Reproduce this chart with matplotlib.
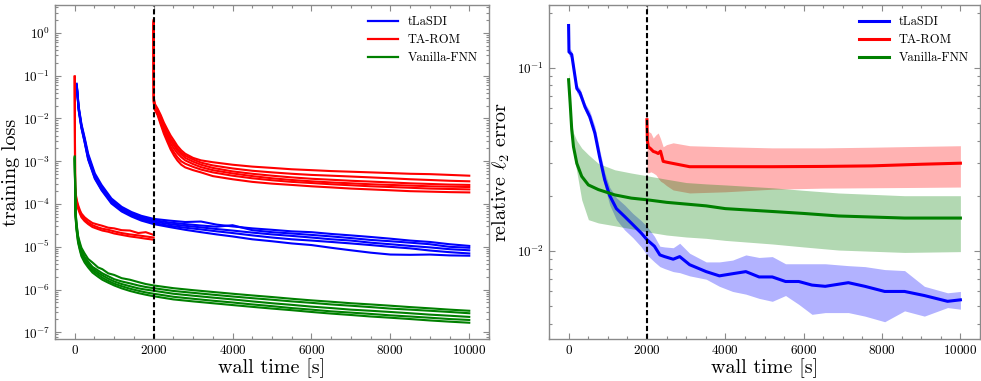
import matplotlib
matplotlib.use("Agg")
import matplotlib.pyplot as plt
from matplotlib.ticker import MultipleLocator, LogLocator

plt.rcParams.update({
    "font.family": "serif",
    "font.serif": ["cmr10"],
    "mathtext.fontset": "cm",
    "axes.formatter.use_mathtext": True,
    "axes.unicode_minus": False,
})

# ---------------- left panel: training loss (several runs per method) ----------------
t_blue = [50, 100, 170, 250, 340, 510, 680, 930, 1190, 1440, 1690, 2000,
          2400, 2800, 3200, 3600, 4000, 4500, 5000, 5500, 6000, 6500, 7000,
          7500, 8000, 8500, 9000, 9500, 10000]
blue_runs = [
    [0.065, 0.019, 7.4e-3, 3.6e-3, 1.5e-3, 5.2e-4, 2.8e-4, 1.35e-4, 8.6e-5, 6.5e-5, 5.3e-5, 4.5e-5,
     4.1e-5, 3.8e-5, 3.9e-5, 3.3e-5, 3.0e-5, 2.7e-5, 2.5e-5, 2.3e-5, 2.2e-5, 2.0e-5, 1.85e-5,
     1.7e-5, 1.55e-5, 1.4e-5, 1.3e-5, 1.15e-5, 1.05e-5],
    [0.062, 0.018, 7.0e-3, 3.3e-3, 1.35e-3, 4.7e-4, 2.5e-4, 1.22e-4, 7.9e-5, 6.0e-5, 4.9e-5, 4.2e-5,
     3.7e-5, 3.4e-5, 3.15e-5, 2.95e-5, 3.2e-5, 2.45e-5, 2.2e-5, 2.05e-5, 1.9e-5, 1.75e-5, 1.6e-5,
     1.45e-5, 1.35e-5, 1.25e-5, 1.15e-5, 1.0e-5, 9.5e-6],
    [0.060, 0.017, 6.6e-3, 3.1e-3, 1.25e-3, 4.4e-4, 2.35e-4, 1.15e-4, 7.4e-5, 5.7e-5, 4.6e-5, 3.9e-5,
     3.4e-5, 3.1e-5, 2.85e-5, 2.6e-5, 2.4e-5, 2.15e-5, 1.95e-5, 1.8e-5, 1.65e-5, 1.5e-5, 1.4e-5,
     1.25e-5, 1.15e-5, 1.05e-5, 9.7e-6, 8.8e-6, 8.3e-6],
    [0.058, 0.016, 6.2e-3, 2.9e-3, 1.15e-3, 4.1e-4, 2.2e-4, 1.08e-4, 7.0e-5, 5.4e-5, 4.3e-5, 3.6e-5,
     3.1e-5, 2.8e-5, 2.55e-5, 2.3e-5, 2.1e-5, 1.85e-5, 1.65e-5, 1.5e-5, 1.4e-5, 1.3e-5, 1.2e-5,
     1.1e-5, 1.0e-5, 9.2e-6, 8.2e-6, 7.5e-6, 7.0e-6],
    [0.057, 0.0155, 6.0e-3, 2.8e-3, 1.1e-3, 3.9e-4, 2.1e-4, 1.03e-4, 6.7e-5, 5.1e-5, 4.1e-5, 3.4e-5,
     2.9e-5, 2.5e-5, 2.2e-5, 1.95e-5, 1.75e-5, 1.5e-5, 1.35e-5, 1.2e-5, 1.1e-5, 9.5e-6, 8.3e-6,
     7.3e-6, 6.6e-6, 6.5e-6, 6.6e-6, 6.3e-6, 6.2e-6],
]

t_red1 = [0, 10, 25, 50, 85, 130, 170, 250, 340, 450, 590, 700, 850, 1000,
          1190, 1400, 1610, 1800, 2000]
red1_runs = [
    [0.097, 2.8e-4, 1.75e-4, 1.25e-4, 9.5e-5, 7.2e-5, 6.0e-5, 4.9e-5, 4.2e-5, 3.6e-5,
     3.3e-5, 3.1e-5, 2.8e-5, 2.7e-5, 2.45e-5, 2.4e-5, 2.1e-5, 2.2e-5, 1.9e-5],
    [0.095, 2.5e-4, 1.6e-4, 1.15e-4, 8.5e-5, 6.5e-5, 5.4e-5, 4.4e-5, 3.7e-5, 3.2e-5,
     2.85e-5, 2.65e-5, 2.5e-5, 2.3e-5, 2.1e-5, 1.95e-5, 1.85e-5, 1.75e-5, 1.65e-5],
    [0.093, 2.3e-4, 1.45e-4, 1.05e-4, 7.8e-5, 6.0e-5, 4.9e-5, 4.0e-5, 3.4e-5, 2.9e-5,
     2.6e-5, 2.4e-5, 2.25e-5, 2.05e-5, 1.9e-5, 1.75e-5, 1.65e-5, 1.55e-5, 1.47e-5],
]

t_red2 = [2000, 2005, 2030, 2100, 2180, 2260, 2350, 2430, 2520, 2600, 2700, 2800,
          3000, 3200, 3500, 4000, 4500, 5000, 5500, 6000, 6500, 7000, 7500, 8000,
          8500, 9000, 9500, 10000]
red2_runs = [
    [2.0, 0.03, 0.022, 0.017, 0.012, 8.0e-3, 5.5e-3, 4.0e-3, 3.0e-3, 2.3e-3, 1.8e-3, 1.5e-3,
     1.2e-3, 1.05e-3, 9.5e-4, 8.3e-4, 7.5e-4, 7.0e-4, 6.5e-4, 6.2e-4, 5.9e-4, 5.7e-4, 5.5e-4,
     5.3e-4, 5.1e-4, 5.0e-4, 4.8e-4, 4.6e-4],
    [1.9, 0.028, 0.020, 0.016, 0.011, 7.0e-3, 4.8e-3, 3.4e-3, 2.6e-3, 2.0e-3, 1.6e-3, 1.35e-3,
     1.1e-3, 9.3e-4, 8.0e-4, 6.8e-4, 6.0e-4, 5.5e-4, 5.1e-4, 4.8e-4, 4.6e-4, 4.4e-4, 4.2e-4,
     4.0e-4, 3.8e-4, 3.65e-4, 3.5e-4, 3.4e-4],
    [1.8, 0.026, 0.019, 0.015, 9.5e-3, 6.3e-3, 4.2e-3, 3.0e-3, 2.3e-3, 1.8e-3, 1.45e-3, 1.2e-3,
     9.8e-4, 8.3e-4, 7.0e-4, 5.8e-4, 5.1e-4, 4.6e-4, 4.2e-4, 3.9e-4, 3.7e-4, 3.5e-4, 3.35e-4,
     3.2e-4, 3.05e-4, 2.95e-4, 2.85e-4, 2.8e-4],
    [1.7, 0.025, 0.018, 0.014, 8.8e-3, 5.6e-3, 3.7e-3, 2.6e-3, 1.95e-3, 1.55e-3, 1.25e-3, 1.05e-3,
     8.6e-4, 7.3e-4, 6.2e-4, 5.2e-4, 4.5e-4, 4.0e-4, 3.65e-4, 3.4e-4, 3.2e-4, 3.05e-4, 2.9e-4,
     2.8e-4, 2.7e-4, 2.6e-4, 2.55e-4, 2.5e-4],
    [1.6, 0.024, 0.017, 0.013, 8.0e-3, 5.0e-3, 3.2e-3, 2.2e-3, 1.6e-3, 1.25e-3, 1.0e-3, 8.8e-4,
     7.4e-4, 6.4e-4, 5.5e-4, 4.6e-4, 4.0e-4, 3.6e-4, 3.3e-4, 3.1e-4, 2.9e-4, 2.75e-4, 2.6e-4,
     2.5e-4, 2.4e-4, 2.3e-4, 2.25e-4, 2.2e-4],
    [1.5, 0.022, 0.016, 0.012, 7.2e-3, 4.4e-3, 2.8e-3, 1.9e-3, 1.35e-3, 1.05e-3, 8.3e-4, 7.2e-4,
     6.2e-4, 5.5e-4, 4.5e-4, 3.8e-4, 3.3e-4, 3.0e-4, 2.8e-4, 2.6e-4, 2.45e-4, 2.3e-4, 2.2e-4,
     2.1e-4, 2.0e-4, 1.95e-4, 1.9e-4, 1.87e-4],
]

t_green = [0, 20, 45, 85, 130, 170, 250, 340, 450, 590, 700, 850, 1000, 1190, 1400,
           1610, 1800, 2000, 2500, 3000, 3500, 4000, 4500, 5000, 5500, 6000, 6500,
           7000, 7500, 8000, 8500, 9000, 9500, 10000]
green_runs = [
    [1.3e-3, 7e-5, 3.6e-5, 1.8e-5, 1.25e-5, 9.5e-6, 7.0e-6, 5.2e-6, 4.3e-6, 3.3e-6, 3.0e-6,
     2.4e-6, 2.2e-6, 1.85e-6, 1.7e-6, 1.5e-6, 1.35e-6, 1.25e-6,
     1.08e-6, 9.7e-7, 8.8e-7, 8.0e-7, 7.3e-7, 6.7e-7, 6.1e-7, 5.6e-7, 5.2e-7, 4.8e-7, 4.5e-7,
     4.2e-7, 3.9e-7, 3.65e-7, 3.4e-7, 3.2e-7],
    [1.25e-3, 6.5e-5, 3.3e-5, 1.65e-5, 1.1e-5, 8.2e-6, 5.8e-6, 4.5e-6, 3.4e-6, 2.8e-6, 2.4e-6,
     2.05e-6, 1.75e-6, 1.55e-6, 1.4e-6, 1.25e-6, 1.15e-6, 1.08e-6,
     9.3e-7, 8.4e-7, 7.6e-7, 6.9e-7, 6.3e-7, 5.8e-7, 5.3e-7, 4.9e-7, 4.5e-7, 4.2e-7, 3.9e-7,
     3.6e-7, 3.4e-7, 3.2e-7, 3.0e-7, 2.8e-7],
    [1.2e-3, 6e-5, 3e-5, 1.5e-5, 1.0e-5, 7.4e-6, 5.3e-6, 4.0e-6, 3.1e-6, 2.5e-6, 2.15e-6,
     1.8e-6, 1.55e-6, 1.35e-6, 1.2e-6, 1.07e-6, 1.0e-6, 9.4e-7,
     8.0e-7, 7.2e-7, 6.5e-7, 5.9e-7, 5.3e-7, 4.8e-7, 4.4e-7, 4.0e-7, 3.7e-7, 3.4e-7, 3.2e-7,
     3.0e-7, 2.8e-7, 2.6e-7, 2.45e-7, 2.3e-7],
    [1.15e-3, 5.5e-5, 2.7e-5, 1.35e-5, 9.0e-6, 6.6e-6, 4.7e-6, 3.6e-6, 2.8e-6, 2.25e-6, 1.9e-6,
     1.6e-6, 1.38e-6, 1.2e-6, 1.05e-6, 9.4e-7, 8.6e-7, 8.0e-7,
     6.8e-7, 6.1e-7, 5.5e-7, 5.0e-7, 4.5e-7, 4.1e-7, 3.7e-7, 3.4e-7, 3.1e-7, 2.9e-7, 2.7e-7,
     2.5e-7, 2.35e-7, 2.2e-7, 2.05e-7, 1.95e-7],
    [1.1e-3, 5e-5, 2.5e-5, 1.25e-5, 8.3e-6, 6.0e-6, 4.3e-6, 3.3e-6, 2.5e-6, 2.0e-6, 1.7e-6,
     1.45e-6, 1.25e-6, 1.07e-6, 9.3e-7, 8.3e-7, 7.6e-7, 7.0e-7,
     5.9e-7, 5.3e-7, 4.8e-7, 4.35e-7, 3.95e-7, 3.6e-7, 3.3e-7, 3.0e-7, 2.75e-7, 2.55e-7, 2.35e-7,
     2.2e-7, 2.05e-7, 1.9e-7, 1.78e-7, 1.68e-7],
]

# ---------------- right panel: relative l2 error (mean and band) ----------------
t_tl = [0, 10, 80, 130, 210, 290, 420, 540, 670, 790, 920, 1050, 1220, 1430, 1640, 1855,
        2000, 2190, 2330, 2450, 2670, 2836, 3089, 3511, 3849, 4186, 4524, 4862, 5199,
        5537, 5875, 6212, 6550, 7140, 7562, 8068, 8575, 9080, 9672, 10000]
mean_tl = [0.17, 0.122, 0.118, 0.100, 0.077, 0.073, 0.061, 0.054, 0.044, 0.0327, 0.0245,
           0.020, 0.017, 0.0154, 0.0139, 0.0125, 0.0115, 0.0106, 0.0095, 0.0093, 0.0090,
           0.0093, 0.0084, 0.0077, 0.0073, 0.0075, 0.0077, 0.0072, 0.0072, 0.0068, 0.0068,
           0.0065, 0.0064, 0.0067, 0.0064, 0.0060, 0.0060, 0.0057, 0.0053, 0.0054]
lo_tl = [0.162, 0.116, 0.113, 0.095, 0.073, 0.069, 0.058, 0.051, 0.041, 0.030, 0.0225,
         0.0178, 0.0148, 0.0130, 0.0118, 0.0105, 0.0095, 0.0087, 0.0082, 0.0080, 0.0077,
         0.0076, 0.0073, 0.0070, 0.0064, 0.0060, 0.0058, 0.0055, 0.0053, 0.0057, 0.0051,
         0.0045, 0.0046, 0.0046, 0.0044, 0.0041, 0.0047, 0.0044, 0.0049, 0.0048]
hi_tl = [0.182, 0.128, 0.124, 0.106, 0.081, 0.077, 0.064, 0.058, 0.048, 0.036, 0.0268,
         0.0222, 0.0195, 0.0178, 0.0160, 0.0146, 0.0136, 0.0120, 0.0106, 0.0105, 0.0104,
         0.0110, 0.0097, 0.0087, 0.0087, 0.0089, 0.0095, 0.0092, 0.0093, 0.0085, 0.0085,
         0.0085, 0.0085, 0.0083, 0.0082, 0.0079, 0.0078, 0.0064, 0.0059, 0.0060]

t_rom = [2000, 2010, 2034, 2100, 2161, 2230, 2287, 2346, 2414, 2500, 2667, 3089, 4000,
         5199, 6500, 7731, 9000, 10000]
mean_rom = [0.052, 0.040, 0.037, 0.036, 0.0349, 0.0345, 0.034, 0.035, 0.0308, 0.0305,
            0.030, 0.0288, 0.0288, 0.0288, 0.0289, 0.0291, 0.0297, 0.0301]
lo_rom = [0.026, 0.027, 0.0266, 0.027, 0.0266, 0.026, 0.0249, 0.024, 0.0235, 0.0227,
          0.0215, 0.0207, 0.021, 0.0217, 0.022, 0.0221, 0.0222, 0.0223]
hi_rom = [0.054, 0.047, 0.045, 0.044, 0.0413, 0.043, 0.044, 0.041, 0.037, 0.038,
          0.0389, 0.0375, 0.037, 0.0365, 0.0365, 0.0368, 0.0372, 0.0375]

t_fnn = [0, 10, 40, 80, 125, 210, 335, 505, 760, 1180, 1600, 2000, 2500, 3000, 3511,
         4000, 5199, 6000, 6887, 8575, 10000]
mean_fnn = [0.086, 0.080, 0.064, 0.046, 0.037, 0.030, 0.0255, 0.0229, 0.0216, 0.0202,
            0.0194, 0.0190, 0.0184, 0.0180, 0.0176, 0.0170, 0.0164, 0.0160, 0.0155,
            0.0151, 0.0151]
lo_fnn = [0.082, 0.075, 0.058, 0.043, 0.034, 0.027, 0.019, 0.0148, 0.0142, 0.0137,
          0.0132, 0.0127, 0.0122, 0.0119, 0.0117, 0.0114, 0.0109, 0.0105, 0.0101,
          0.0098, 0.0099]
hi_fnn = [0.094, 0.090, 0.068, 0.050, 0.044, 0.040, 0.0364, 0.0335, 0.030, 0.0277,
          0.0266, 0.0257, 0.0246, 0.0236, 0.0232, 0.0229, 0.0221, 0.0214, 0.0207,
          0.0200, 0.0200]

switch_time = 2000
labels = ["tLaSDI", "TA-ROM", "Vanilla-FNN"]
loss_ticks = [1e-7, 1e-6, 1e-5, 1e-4, 1e-3, 1e-2, 1e-1, 1e0]
err_ticks = [1e-2, 1e-1]
GRAY = "#8a8a8a"


def style_axes(ax, yticks):
    ax.set_yscale("log")
    ax.set_xlim(-500, 10500)
    ax.xaxis.set_major_locator(MultipleLocator(2000))
    ax.xaxis.set_minor_locator(MultipleLocator(500))
    ax.set_yticks(yticks)
    ax.yaxis.set_minor_locator(LogLocator(base=10, subs=range(2, 10), numticks=20))
    ax.tick_params(which="both", direction="in", top=True, right=True,
                   color=GRAY, labelsize=9.5, width=0.8)
    ax.tick_params(which="major", length=4)
    ax.tick_params(which="minor", length=2)
    for sp in ax.spines.values():
        sp.set_color(GRAY)
        sp.set_linewidth(1.0)
    ax.axvline(switch_time, color="black", lw=1.5, dashes=(2.5, 1.3))
    ax.set_xlabel("wall time [s]", fontsize=14.5, labelpad=1)


fig = plt.figure(figsize=(9.81, 3.81), dpi=100)
ax1 = fig.add_axes([55 / 981, 42 / 381, 434 / 981, 334 / 381])
ax2 = fig.add_axes([549 / 981, 42 / 381, 431 / 981, 334 / 381])

# left
lw = 1.5
for i, run in enumerate(blue_runs):
    ax1.plot(t_blue, run, color="blue", lw=lw, label=labels[0] if i == 0 else None)
for i, run in enumerate(red1_runs):
    ax1.plot(t_red1, run, color="red", lw=lw, label=labels[1] if i == 0 else None)
for run in red2_runs:
    ax1.plot(t_red2, run, color="red", lw=lw)
for i, run in enumerate(green_runs):
    ax1.plot(t_green, run, color="green", lw=lw, label=labels[2] if i == 0 else None)
style_axes(ax1, loss_ticks)
ax1.set_ylim(7e-8, 4.5)
ax1.set_ylabel("training loss", fontsize=14.5, labelpad=2)
leg1 = ax1.legend(loc="upper right", frameon=False, fontsize=9, handlelength=2.4,
                  labelspacing=0.45)
for h in leg1.get_lines():
    h.set_linewidth(1.6)

# right
ax2.fill_between(t_tl, lo_tl, hi_tl, color="blue", alpha=0.3, lw=0)
ax2.fill_between(t_rom, lo_rom, hi_rom, color="red", alpha=0.3, lw=0)
ax2.fill_between(t_fnn, lo_fnn, hi_fnn, color="green", alpha=0.3, lw=0)
ax2.plot(t_tl, mean_tl, color="blue", lw=2.2, label=labels[0])
ax2.plot(t_rom, mean_rom, color="red", lw=2.2, label=labels[1])
ax2.plot(t_fnn, mean_fnn, color="green", lw=2.2, label=labels[2])
style_axes(ax2, err_ticks)
ax2.set_ylim(0.0033, 0.22)
ax2.set_ylabel(r"relative $\ell_2$ error", fontsize=14.5, labelpad=4)
ax2.legend(loc="upper right", frameon=False, fontsize=9, handlelength=2.4,
           labelspacing=0.45)

fig.savefig("out.png", dpi=100)
